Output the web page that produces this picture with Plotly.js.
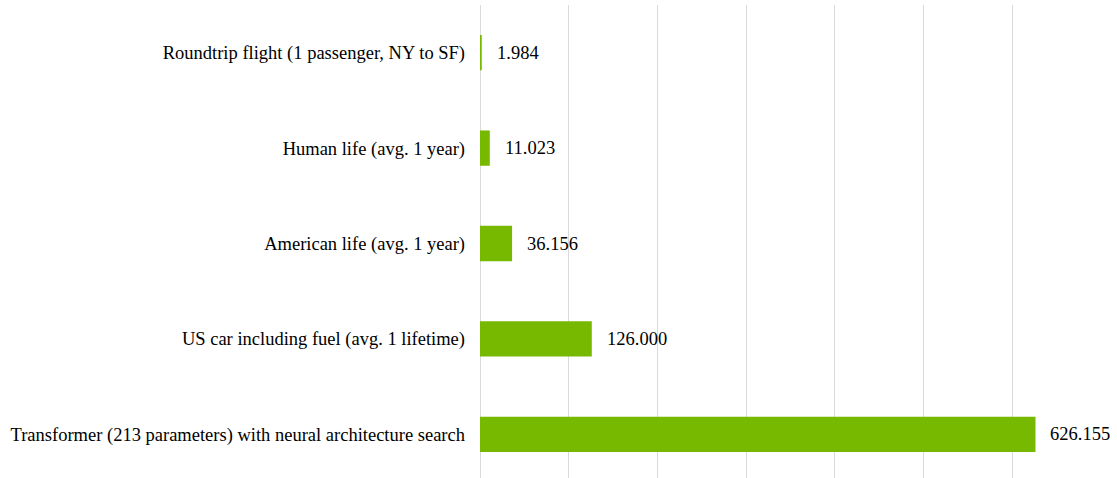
<!DOCTYPE html>
<html>
<head>
<meta charset="utf-8">
<script src="https://cdn.plot.ly/plotly-3.0.1.min.js"></script>
<style>html,body{margin:0;padding:0;background:#fff;overflow:hidden;}#chart{width:1117px;height:482px;}</style>
</head>
<body>
<div id="chart"></div>
<script>
const categories = [
  "Roundtrip flight (1 passenger, NY to SF)",
  "Human life (avg. 1 year)",
  "American life (avg. 1 year)",
  "US car including fuel (avg. 1 lifetime)",
  "Transformer (213 parameters) with neural architecture search"
];
const values = [1.984, 11.023, 36.156, 126.0, 626.155];
const valueLabels = ["1.984", "11.023", "36.156", "126.000", "626.155"];

const font = {family: "Liberation Serif, Times New Roman, serif", size: 18.5, color: "#000"};

const trace = {
  type: "bar",
  orientation: "h",
  x: values,
  y: categories,
  marker: {color: "#76b900"},
  hoverinfo: "none"
};

const annotations = categories.map((c, i) => ({
  x: values[i], y: c, xref: "x", yref: "y",
  text: valueLabels[i], showarrow: false,
  xanchor: "left", xshift: 13, font: font
}));

const layout = {
  width: 1117, height: 482,
  margin: {l: 480, r: 16, t: 5, b: 0},
  paper_bgcolor: "#fff", plot_bgcolor: "#fff",
  bargap: 0.63,
  showlegend: false,
  font: font,
  xaxis: {
    range: [0, 700], dtick: 100, showticklabels: false,
    showgrid: true, gridcolor: "#d9d9d9", gridwidth: 1,
    zeroline: true, zerolinecolor: "#d9d9d9", zerolinewidth: 1,
    showline: false, fixedrange: true
  },
  yaxis: {
    type: "category", autorange: "reversed",
    showgrid: false, zeroline: false, showline: false,
    ticks: "", ticklabelstandoff: 14, tickfont: font, fixedrange: true
  },
  annotations: annotations
};

Plotly.newPlot("chart", [trace], layout, {displayModeBar: false, staticPlot: true});
</script>
</body>
</html>
